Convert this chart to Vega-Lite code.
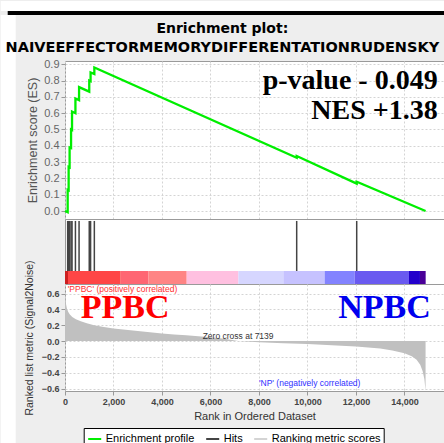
{
  "$schema": "https://vega.github.io/schema/vega-lite/v6.json",
  "background": "#eeeeee",
  "padding": 0,
  "autosize": {"type": "pad"},
  "title": {
    "text": "Enrichment plot:",
    "subtitle": "NAIVEEFFECTORMEMORYDIFFERENTATIONRUDENSKY",
    "font": "DejaVu Sans",
    "fontSize": 14,
    "fontWeight": "bold",
    "color": "#000000",
    "subtitleFont": "DejaVu Sans",
    "subtitleFontSize": 14.5,
    "subtitleFontWeight": "bold",
    "subtitleColor": "#000000",
    "subtitlePadding": 5,
    "anchor": "middle",
    "frame": "bounds",
    "offset": -54
  },
  "spacing": 0,
  "bounds": "flush",
  "datasets": {
    "frame": [
      {"x1": -2652, "x2": 15630, "y1": 1.288, "y2": 1.2267, "part": "top"},
      {"x1": -2363, "x2": 15630, "y1": 1.2267, "y2": 1.2021, "part": "bar"},
      {"x1": -2652, "x2": -2033, "y1": 1.2021, "y2": -1.426, "part": "left"}
    ],
    "es": [
      {"i": 1, "rank": 0, "es": 0},
      {"i": 2, "rank": 110, "es": -0.007},
      {"i": 3, "rank": 110, "es": 0.13},
      {"i": 4, "rank": 150, "es": 0.127},
      {"i": 5, "rank": 150, "es": 0.27},
      {"i": 6, "rank": 190, "es": 0.267},
      {"i": 7, "rank": 190, "es": 0.39},
      {"i": 8, "rank": 250, "es": 0.386},
      {"i": 9, "rank": 250, "es": 0.5},
      {"i": 10, "rank": 290, "es": 0.497},
      {"i": 11, "rank": 290, "es": 0.61},
      {"i": 12, "rank": 430, "es": 0.6},
      {"i": 13, "rank": 430, "es": 0.69},
      {"i": 14, "rank": 580, "es": 0.68},
      {"i": 15, "rank": 580, "es": 0.76},
      {"i": 16, "rank": 1000, "es": 0.732},
      {"i": 17, "rank": 1000, "es": 0.8},
      {"i": 18, "rank": 1055, "es": 0.796},
      {"i": 19, "rank": 1055, "es": 0.85},
      {"i": 20, "rank": 1210, "es": 0.84},
      {"i": 21, "rank": 1210, "es": 0.88},
      {"i": 22, "rank": 9555, "es": 0.327},
      {"i": 23, "rank": 9555, "es": 0.337},
      {"i": 24, "rank": 12030, "es": 0.168},
      {"i": 25, "rank": 12030, "es": 0.18},
      {"i": 26, "rank": 14870, "es": 0.0}
    ],
    "hits": [
      {"rank": 110}, {"rank": 150}, {"rank": 190}, {"rank": 250}, {"rank": 290},
      {"rank": 430}, {"rank": 580}, {"rank": 1000}, {"rank": 1055}, {"rank": 1210},
      {"rank": 9555}, {"rank": 12030}
    ],
    "bar": [
      {"bin": 1, "start": 0, "end": 124},
      {"bin": 2, "start": 124, "end": 2297},
      {"bin": 3, "start": 2297, "end": 3439},
      {"bin": 4, "start": 3439, "end": 5019},
      {"bin": 5, "start": 5019, "end": 7151},
      {"bin": 6, "start": 7151, "end": 9006},
      {"bin": 7, "start": 9006, "end": 10709},
      {"bin": 8, "start": 10709, "end": 11946},
      {"bin": 9, "start": 11946, "end": 14186},
      {"bin": 10, "start": 14186, "end": 14639},
      {"bin": 11, "start": 14639, "end": 14874}
    ],
    "metric": [
      {"rank": 0, "m": 0.62}, {"rank": 15, "m": 0.55}, {"rank": 40, "m": 0.47},
      {"rank": 80, "m": 0.41}, {"rank": 130, "m": 0.37}, {"rank": 200, "m": 0.335},
      {"rank": 300, "m": 0.305}, {"rank": 450, "m": 0.275}, {"rank": 650, "m": 0.25},
      {"rank": 900, "m": 0.225}, {"rank": 1200, "m": 0.2}, {"rank": 1600, "m": 0.178},
      {"rank": 2000, "m": 0.16}, {"rank": 2500, "m": 0.143}, {"rank": 3000, "m": 0.127},
      {"rank": 3500, "m": 0.111}, {"rank": 4000, "m": 0.096}, {"rank": 4500, "m": 0.083},
      {"rank": 5000, "m": 0.072}, {"rank": 5500, "m": 0.062}, {"rank": 6000, "m": 0.048},
      {"rank": 6500, "m": 0.032}, {"rank": 6900, "m": 0.014}, {"rank": 7139, "m": 0},
      {"rank": 7500, "m": -0.007}, {"rank": 8000, "m": -0.014}, {"rank": 9000, "m": -0.026},
      {"rank": 10000, "m": -0.038}, {"rank": 11000, "m": -0.052}, {"rank": 12000, "m": -0.068},
      {"rank": 12500, "m": -0.08}, {"rank": 13000, "m": -0.095}, {"rank": 13500, "m": -0.118},
      {"rank": 14000, "m": -0.155}, {"rank": 14300, "m": -0.19}, {"rank": 14500, "m": -0.235},
      {"rank": 14650, "m": -0.3}, {"rank": 14750, "m": -0.38}, {"rank": 14820, "m": -0.48},
      {"rank": 14860, "m": -0.6}, {"rank": 14870, "m": -0.62}
    ]
  },
  "vconcat": [
    {
      "width": 379,
      "height": 158,
      "layer": [
        {
          "data": {"name": "frame"},
          "transform": [{"filter": "datum.part != 'bar'"}],
          "mark": {"type": "rect", "clip": false, "color": "#ffffff"},
          "encoding": {
            "x": {
              "field": "x1", "type": "quantitative",
              "scale": {"domain": [0, 15630], "nice": false, "zero": false},
              "axis": {"grid": true, "labels": false, "ticks": false, "domain": false, "title": null,
                       "tickCount": 20, "values": [0, 2000, 4000, 6000, 8000, 10000, 12000, 14000]}
            },
            "x2": {"field": "x2"},
            "y": {
              "field": "y1", "type": "quantitative",
              "scale": {"domain": [-0.049, 0.92], "nice": false, "zero": false},
              "axis": {"grid": true, "tickCount": 20, "values": [0, 0.1, 0.2, 0.3, 0.4, 0.5, 0.6, 0.7, 0.8, 0.9],
                       "format": ".1f", "labelFontSize": 11, "labelColor": "#666666", "labelOverlap": false,
                       "title": "Enrichment score (ES)", "titleFontSize": 12.5, "titleColor": "#555555",
                       "titlePadding": 4, "tickSize": 4}
            },
            "y2": {"field": "y2"}
          }
        },
        {
          "data": {"name": "frame"},
          "transform": [{"filter": "datum.part == 'bar'"}],
          "mark": {"type": "rect", "clip": false, "color": "#000000"},
          "encoding": {
            "x": {"field": "x1", "type": "quantitative"},
            "x2": {"field": "x2"},
            "y": {"field": "y1", "type": "quantitative"},
            "y2": {"field": "y2"}
          }
        },
        {
          "data": {"name": "es"},
          "mark": {"type": "line", "strokeWidth": 2.3},
          "encoding": {
            "x": {"field": "rank", "type": "quantitative"},
            "y": {"field": "es", "type": "quantitative"},
            "order": {"field": "i", "type": "quantitative"},
            "stroke": {
              "datum": "Enrichment profile", "type": "nominal",
              "scale": {"domain": ["Enrichment profile", "Hits", "Ranking metric scores"],
                        "range": ["#00ee00", "#444444", "#d4d4d4"]},
              "legend": {"title": null, "orient": "none", "legendX": 18.7, "legendY": 367,
                         "direction": "horizontal", "symbolType": "stroke", "strokeColor": "#000000",
                         "fillColor": "#ffffff", "padding": 3, "labelFontSize": 11,
                         "labelFont": "Liberation Sans", "labelColor": "#000000", "symbolStrokeWidth": 2,
                         "symbolSize": 170, "columnPadding": 7, "labelOffset": 3, "cornerRadius": 0}
            }
          }
        },
        {
          "data": {"values": [
            {"label": "p-value - 0.049", "rank": 15370, "es": 0.748},
            {"label": "NES +1.38", "rank": 15370, "es": 0.564}
          ]},
          "mark": {"type": "text", "align": "right", "baseline": "alphabetic",
                   "font": "Liberation Serif", "fontWeight": "bold", "fontSize": 28, "color": "#000000"},
          "encoding": {
            "x": {"field": "rank", "type": "quantitative"},
            "y": {"field": "es", "type": "quantitative"},
            "text": {"field": "label"}
          }
        }
      ]
    },
    {
      "width": 379,
      "height": 65,
      "layer": [
        {
          "data": {"name": "bar"},
          "mark": "rect",
          "encoding": {
            "x": {"field": "start", "type": "quantitative",
                  "scale": {"domain": [0, 15630], "nice": false, "zero": false}, "axis": null},
            "x2": {"field": "end"},
            "y": {"datum": 0, "type": "quantitative", "scale": {"domain": [0, 1], "nice": false}, "axis": null},
            "y2": {"datum": 0.2},
            "fill": {"field": "bin", "type": "ordinal",
                     "scale": {"domain": [1, 2, 3, 4, 5, 6, 7, 8, 9, 10, 11],
                               "range": ["#cc2020", "#ff4646", "#ff6673", "#ff8484", "#ffc0e0", "#d6d6ff",
                                         "#c6c2ff", "#8383ff", "#6a5af0", "#2200cc", "#4a0098"]},
                     "legend": null}
          }
        },
        {
          "data": {"name": "hits"},
          "mark": {"type": "rule", "strokeWidth": 1.5},
          "encoding": {
            "x": {"field": "rank", "type": "quantitative"},
            "y": {"datum": 0.2, "type": "quantitative"},
            "y2": {"datum": 0.97},
            "stroke": {"datum": "Hits", "type": "nominal"}
          }
        }
      ]
    },
    {
      "width": 379,
      "height": 107,
      "layer": [
        {
          "data": {"name": "metric"},
          "mark": {"type": "area", "fill": "#c0c0c0", "strokeWidth": 0},
          "encoding": {
            "x": {
              "field": "rank", "type": "quantitative",
              "scale": {"domain": [0, 15630], "nice": false, "zero": false},
              "axis": {"grid": true, "tickCount": 20, "values": [0, 2000, 4000, 6000, 8000, 10000, 12000, 14000],
                       "format": ",d", "labelFontSize": 9, "labelFontWeight": "bold", "labelColor": "#444444",
                       "labelOverlap": false, "labelFlush": false,
                       "tickSize": 4, "labelPadding": 2, "title": "Rank in Ordered Dataset",
                       "titleFontSize": 11, "titleColor": "#333333", "titlePadding": 4}
            },
            "y": {
              "field": "m", "type": "quantitative", "stack": null,
              "scale": {"domain": [-0.63, 0.72], "nice": false, "zero": false},
              "axis": {"grid": true, "tickCount": 20, "values": [-0.6, -0.4, -0.2, 0, 0.2, 0.4, 0.6], "format": ".1f",
                       "labelFontSize": 9, "labelFontWeight": "bold", "labelColor": "#444444", "tickSize": 4,
                       "labelOverlap": false, "labelFlush": false,
                       "title": "Ranked list metric (Signal2Noise)", "titleFontSize": 10.5,
                       "titleColor": "#333333", "titlePadding": 7}
            },
            "y2": {"datum": 0},
            "stroke": {"datum": "Ranking metric scores", "type": "nominal"}
          }
        },
        {
          "data": {"values": [{"label": "PPBC", "rank": 647, "m": 0.29}]},
          "mark": {"type": "text", "align": "left", "baseline": "alphabetic", "font": "Liberation Serif",
                   "fontWeight": "bold", "fontSize": 34, "color": "#ff0000"},
          "encoding": {"x": {"field": "rank", "type": "quantitative"}, "y": {"field": "m", "type": "quantitative"},
                       "text": {"field": "label"}}
        },
        {
          "data": {"values": [{"label": "NPBC", "rank": 15082, "m": 0.29}]},
          "mark": {"type": "text", "align": "right", "baseline": "alphabetic", "font": "Liberation Serif",
                   "fontWeight": "bold", "fontSize": 34, "color": "#0000ee"},
          "encoding": {"x": {"field": "rank", "type": "quantitative"}, "y": {"field": "m", "type": "quantitative"},
                       "text": {"field": "label"}}
        },
        {
          "data": {"values": [{"label": "'PPBC' (positively correlated)", "rank": 111, "m": 0.625}]},
          "mark": {"type": "text", "align": "left", "baseline": "alphabetic", "font": "Liberation Sans",
                   "fontSize": 8.5, "color": "#ff3030"},
          "encoding": {"x": {"field": "rank", "type": "quantitative"}, "y": {"field": "m", "type": "quantitative"},
                       "text": {"field": "label"}}
        },
        {
          "data": {"values": [{"label": "'NP' (negatively correlated)", "rank": 10090, "m": -0.568}]},
          "mark": {"type": "text", "align": "center", "baseline": "alphabetic", "font": "Liberation Sans",
                   "fontSize": 8.5, "color": "#3030ff"},
          "encoding": {"x": {"field": "rank", "type": "quantitative"}, "y": {"field": "m", "type": "quantitative"},
                       "text": {"field": "label"}}
        },
        {
          "data": {"values": [{"label": "Zero cross at 7139", "rank": 7139, "m": 0.025}]},
          "mark": {"type": "text", "align": "center", "baseline": "alphabetic", "font": "Liberation Sans",
                   "fontSize": 8.5, "color": "#333333"},
          "encoding": {"x": {"field": "rank", "type": "quantitative"}, "y": {"field": "m", "type": "quantitative"},
                       "text": {"field": "label"}}
        }
      ]
    }
  ],
  "resolve": {
    "scale": {"x": "independent", "y": "independent", "fill": "independent", "stroke": "shared"},
    "legend": {"stroke": "shared"}
  },
  "config": {
    "view": {"stroke": "#9a9a9a", "fill": "#ffffff"},
    "axis": {"gridDash": [2, 2], "gridColor": "#d4d4d4", "domain": false, "tickColor": "#999999",
             "labelOverlap": false,
             "labelFont": "Liberation Sans", "titleFont": "Liberation Sans", "titleFontWeight": "normal"}
  }
}
